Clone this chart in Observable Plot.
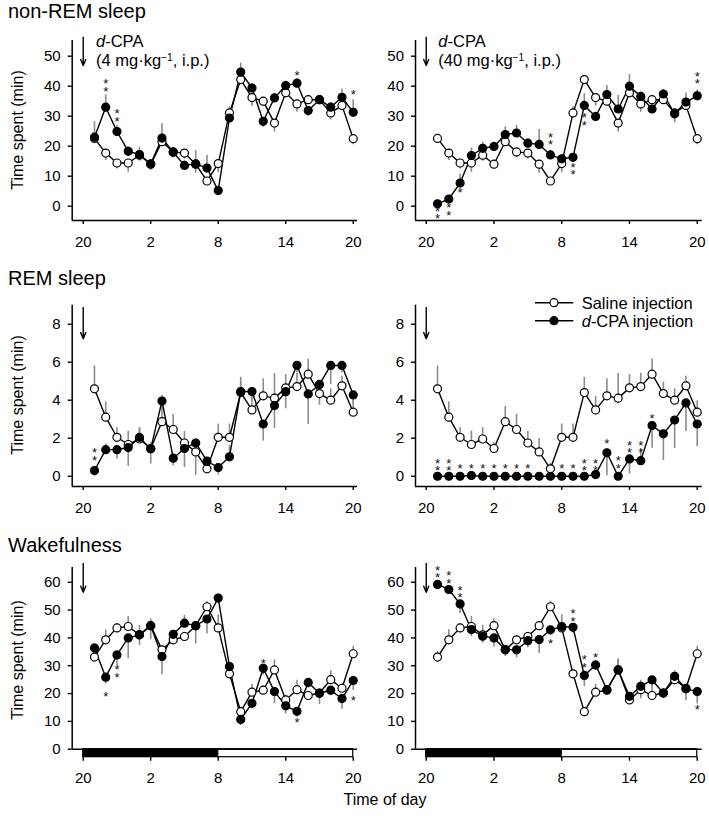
<!DOCTYPE html>
<html><head><meta charset="utf-8">
<script src="https://cdn.jsdelivr.net/npm/d3@7"></script>
<script src="https://cdn.jsdelivr.net/npm/@observablehq/plot@0.6"></script>
<style>
body{margin:0;background:#fff;}
#root{position:relative;width:709px;height:816px;overflow:hidden;font-family:"Liberation Sans",Arial,sans-serif;color:#000;background:#fff;}
.abs{position:absolute;white-space:nowrap;line-height:1;}
sup{font-size:0.62em;vertical-align:0.5em;line-height:0;}
</style></head><body><div id="root"></div>
<script>
// ---------- data ----------
const hours = [21,22,23,24,25,26,27,28,29,30,31,32,33,34,35,36,37,38,39,40,41,42,43,44];
const xTicks = [20,26,32,38,44];
const xTickLabels = ["20","2","8","14","20"];
const injectionHour = 20;

const salineNREM    = [22.6,17.7,14.4,14.4,17.0,14.0,21.5,18.1,17.7,14.0,8.4,14.2,31.1,42.2,36.2,35.0,27.7,37.8,34.1,35.5,35.5,31.1,33.6,22.5];
const salineNREMErr = [-1.5,-2.5,-2,-3.1,-2,-1.5,-1.5,-2,-2,-3,-1.5,-3,2,-1.5,-2.9,-1.5,-3,-1.5,-2.8,-1.5,-1.5,-2.3,-1.5,-2];
const dcpa4NREM     = [23.0,33.0,24.9,18.3,17.2,14.1,22.7,18.0,13.6,14.1,12.7,5.2,29.4,44.7,39.4,28.3,36.1,40.2,41.0,31.9,35.5,33.0,36.3,31.3];
const dcpa4NREMErr  = [5.2,4.1,2,1.5,2.5,-2.2,4.8,1.5,1.5,4.4,4.2,1.5,1.5,3,1.5,-2,1.5,1.5,1.5,-2,1.5,1.5,2.8,4.2];
const dcpa40NREM    = [0.8,2.4,7.7,16.9,19.3,19.9,23.9,24.4,21.0,20.6,17.1,15.8,16.3,33.6,29.9,37.2,32.4,40.0,36.6,32.4,37.4,30.8,34.7,36.8];
const dcpa40NREMErr = [1,1,3,2.5,2,1.5,2.5,2.5,1.5,5,1.5,1.5,-1.5,4,1.5,3,4.5,3.9,1.5,1.5,1.5,-3,3,2];

const salineREM     = [4.60,3.11,2.05,1.67,1.96,1.46,2.87,2.46,1.75,1.28,0.39,2.05,2.05,4.40,3.49,4.23,4.11,4.65,4.72,5.37,4.35,4.00,4.76,3.37];
const salineREMErr  = [1.2,0.8,0.5,0.7,0.6,0.3,0.8,0.8,0.6,0.7,0.3,0.7,0.7,0.8,0.7,0.9,1.3,0.7,0.7,0.8,0.6,0.6,0.5,0.6];
const dcpa4REM      = [0.30,1.40,1.40,1.51,2.04,1.44,3.96,0.95,1.46,1.75,0.79,0.46,1.02,4.46,4.46,2.75,3.72,4.45,5.84,4.33,4.83,5.83,5.83,4.28];
const dcpa4REMErr   = [-0.3,0.3,-0.5,-1.0,0.5,-0.8,0.3,-0.4,-1.0,-1.7,-0.5,-0.4,0.6,0.5,-0.4,-0.9,-1.2,-0.9,-0.4,-1.6,-1.1,-1.0,-0.4,-0.5];
const dcpa40REM     = [0,0,0,0.04,0,0,0,0,0,0,0,0,0,0,0.09,1.23,0,0.91,0.82,2.67,2.23,2.96,3.86,2.75];
const dcpa40REMErr  = [0,0,0,0,0,0,0,0,0,0,0,0,0,0,0,-1.2,0,-0.8,0.6,-1.2,-1.4,-1.5,-1.5,-1.2];

const salineWake    = [33.1,39.3,43.6,44.1,41.1,44.4,35.7,39.3,40.5,44.4,51.2,43.6,27.1,13.5,20.5,21.2,28.5,17.7,21.4,19.3,20.2,25.0,21.9,34.3];
const salineWakeErr = [2,3.6,1.5,3.6,3.4,2.4,1.5,1.5,1.5,1.5,1.9,4.7,1.5,1.5,2.8,1.5,3.6,1.5,3.4,1.5,1.5,3.2,1.5,2.7];
const dcpa4Wake     = [36.4,25.9,33.9,40.0,41.1,44.4,33.3,41.3,45.3,44.4,46.8,54.3,29.7,10.7,16.5,29.1,20.7,15.6,13.6,24.0,20.1,21.2,18.2,24.7];
const dcpa4WakeErr  = [-2,-2.5,-4,-7.5,-3.8,-5,-6.5,-2,2.8,-6.6,-5.4,1.5,-2,-2.2,-2,-2.5,-4.4,-3,-2,-2,-4,-2,-3.8,-3.6];
const dcpa40Wake    = [59.2,57.4,52.2,43.0,40.6,40.0,35.8,35.7,39.0,39.4,42.9,44.1,43.8,26.5,30.3,21.4,28.5,19.0,22.6,24.9,20.2,26.2,21.7,20.7];
const dcpa40WakeErr = [1,1,-3.4,-2.5,-2.5,-3.3,-2.5,-2.9,-2.5,-5,-2,-1.5,-2,-4,-2,-1.5,4,-2,-4.5,-5.6,-2,-3,-4.2,-4.4];

// significance marks: [hour, value position, number of asterisks]
const starsNREM4  = [[22,39.8,2],[23,29.9,2],[39,43.9,1],[44,37.5,1]];
const starsNREM40 = [[21,-2.6,2],[22,-1.4,2],[23,5.0,1],[31,22.1,2],[33,12.1,2],[34,28.6,2],[44,42.4,2]];
const starsREM4   = [[21,1.09,2]];
const starsREM40  = [[21,0.54,2],[22,0.54,2],[23,0.45,1],[24,0.45,1],[25,0.45,1],[26,0.45,1],[27,0.45,1],[28,0.45,1],[29,0.45,1],[32,0.45,1],[33,0.45,1],[34,0.54,2],[35,0.54,2],[36,1.76,1],[37,0.68,2],[38,1.48,2],[39,1.48,2],[40,3.1,1]];
const starsWake4  = [[22,19.3,1],[23,27.6,2],[36,31.3,1],[39,10.1,1],[44,17.9,1]];
const starsWake40 = [[21,63.3,2],[22,61.4,2],[23,56.1,2],[31,38.3,1],[33,47.6,2],[34,31.2,2],[35,33.3,1],[44,14.5,1]];

// injection arrow spans (value units) per row
const arrowSpans = [[56.3,46.9],[8.88,7.24],[66.8,56.4]];
const lightPhases = [{from:20,to:32,phase:"dark"},{from:32,to:44,phase:"light"}];

const rowTitles = ["non-REM sleep","REM sleep","Wakefulness"];
const yTicksRows = [[0,10,20,30,40,50],[0,2,4,6,8],[0,10,20,30,40,50,60]];
const yDomains = [[-4.77,55.23],[-0.54,9.0],[-2.87,65.3]];

// ---------- layout ----------
const rowCfg = [
  {top:0,   height:260, mT:40,   mB:40,   tickPad:12, bar:false},
  {top:260, height:270, mT:44.7, mB:44,   tickPad:12, bar:false},
  {top:530, height:286, mT:37,   mB:59.3, tickPad:11, bar:true}
];
const colCfg = [
  {left:0,   width:365, mL:71.7, mR:8,   xDomain:[19.02,44.38]},
  {left:365, width:344, mL:50,   mR:7.3, xDomain:[19.05,44.44]}
];

const panels = [
  {row:0,col:0,s:salineNREM,se:salineNREMErr,d:dcpa4NREM,de:dcpa4NREMErr,stars:starsNREM4},
  {row:0,col:1,s:salineNREM,se:salineNREMErr,d:dcpa40NREM,de:dcpa40NREMErr,stars:starsNREM40},
  {row:1,col:0,s:salineREM,se:salineREMErr,d:dcpa4REM,de:dcpa4REMErr,stars:starsREM4},
  {row:1,col:1,s:salineREM,se:salineREMErr,d:dcpa40REM,de:dcpa40REMErr,stars:starsREM40},
  {row:2,col:0,s:salineWake,se:salineWakeErr,d:dcpa4Wake,de:dcpa4WakeErr,stars:starsWake4},
  {row:2,col:1,s:salineWake,se:salineWakeErr,d:dcpa40Wake,de:dcpa40WakeErr,stars:starsWake40}
];

const root = document.getElementById("root");
const FONT = '"Liberation Sans", Arial, sans-serif';
const errColor = "#8c8c8c";

function makePanel(p) {
  const r = rowCfg[p.row], c = colCfg[p.col];
  const [y0, y1] = yDomains[p.row];
  const [x0, x1] = c.xDomain;
  const base = r.bar ? 0 : y0;
  const data = hours.map((h,i)=>({h, s:p.s[i], se:p.se[i], d:p.d[i], de:p.de[i]}));
  const marks = [];
  if (r.bar) {
    marks.push(Plot.rect(lightPhases.filter(d=>d.phase==="dark"), {x1:"from", x2:"to", y1:()=>y0, y2:()=>0, fill:"black", stroke:"black", strokeWidth:1.2}));
    marks.push(Plot.rect(lightPhases.filter(d=>d.phase==="light"), {x1:"from", x2:"to", y1:()=>y0, y2:()=>0, fill:"white", stroke:"black", strokeWidth:1.2}));
  }
  marks.push(
    Plot.ruleX([x0], {x:d=>d, y1:()=>base, y2:()=>y1, stroke:"black", strokeWidth:1.5}),
    Plot.ruleY([base], {y:d=>d, x1:()=>x0, x2:()=>x1, stroke:"black", strokeWidth:1.5}),
    Plot.ruleX(data, {x:"h", y1:"s", y2:d=>d.s+d.se, stroke:errColor, strokeWidth:1.6}),
    Plot.ruleX(data, {x:"h", y1:"d", y2:d=>d.d+d.de, stroke:errColor, strokeWidth:1.6}),
    Plot.line(data, {x:"h", y:"s", stroke:"black", strokeWidth:1.4}),
    Plot.line(data, {x:"h", y:"d", stroke:"black", strokeWidth:1.4}),
    Plot.dot(data, {x:"h", y:"s", r:4, fill:"white", stroke:"black", strokeWidth:1.2}),
    Plot.dot(data, {x:"h", y:"d", r:4, fill:"black", stroke:"black", strokeWidth:1.2}),
    Plot.text(p.stars, {x:d=>d[0], y:d=>d[1], text:d=>d[2]===2?"*\n*":"*", fontSize:13, lineHeight:0.58, dy:3, fill:"#111"}),
    Plot.arrow([arrowSpans[p.row]], {x1:()=>injectionHour, x2:()=>injectionHour, y1:d=>d[0], y2:d=>d[1], stroke:"black", strokeWidth:1.4, headLength:7, headAngle:45})
  );
  const svg = Plot.plot({
    width: c.width, height: r.height,
    marginLeft: c.mL, marginRight: c.mR, marginTop: r.mT, marginBottom: r.mB,
    x: {domain:[x0,x1], ticks:xTicks, tickFormat:d=>xTickLabels[xTicks.indexOf(d)], tickSize:4, tickPadding:r.tickPad, label:null},
    y: {domain:[y0,y1], ticks:yTicksRows[p.row], tickSize:4, tickPadding:7.5, label:null},
    style: {background:"none", overflow:"visible", fontFamily:FONT, fontSize:"15px", color:"black"},
    marks
  });
  svg.style.position = "absolute";
  svg.style.left = c.left + "px";
  svg.style.top = r.top + "px";
  svg.style.maxWidth = "none";
  d3.select(svg).selectAll('[aria-label^="x-axis"] path, [aria-label^="y-axis"] path, [aria-label^="x-axis"] line, [aria-label^="y-axis"] line').attr("stroke-width", 1.4);
  root.appendChild(svg);
}
panels.forEach(makePanel);

// ---------- text ----------
function addText(html, left, top, size, extra="") {
  const el = document.createElement("div");
  el.className = "abs";
  el.style.cssText += `left:${left}px;top:${top}px;font-size:${size}px;${extra}`;
  el.innerHTML = html;
  root.appendChild(el);
  return el;
}
const titleBaselines = [18.3, 285, 551.7];
rowTitles.forEach((t,i)=> addText(t, 8, titleBaselines[i] - 0.8465*20, 20));

const yLabelCenters = [130, 395, 660];
yLabelCenters.forEach(cy => addText("Time spent (min)", 17.5, cy, 16, "transform:translate(-50%,-50%) rotate(-90deg);"));

addText("Time of day", 385, 805.5 - 0.8465*16, 16, "transform:translateX(-50%);");

const annSize = 16.5;
addText("<i>d</i>-CPA", 96, 47.3 - 0.8465*annSize, annSize);
addText("(4 mg·kg<sup>−1</sup>, i.p.)", 96, 65.5 - 0.8465*annSize, annSize);
addText("<i>d</i>-CPA", 438.3, 46.7 - 0.8465*annSize, annSize);
addText("(40 mg·kg<sup>−1</sup>, i.p.)", 438.3, 65.5 - 0.8465*annSize, annSize);

// legend
const legendSvg = `<svg width="48" height="36" style="position:absolute;left:530px;top:294px;overflow:visible">
<line x1="5" x2="43.3" y1="8.7" y2="8.7" stroke="black" stroke-width="1.4"/>
<circle cx="24" cy="8.7" r="4" fill="white" stroke="black" stroke-width="1.2"/>
<line x1="5" x2="43.3" y1="26.7" y2="26.7" stroke="black" stroke-width="1.4"/>
<circle cx="24" cy="26.7" r="4" fill="black" stroke="black" stroke-width="1.2"/>
</svg>`;
root.insertAdjacentHTML("beforeend", legendSvg);
addText("Saline injection", 581.7, 308.6 - 0.8465*annSize, annSize);
addText("<i>d</i>-CPA injection", 581.7, 326.6 - 0.8465*annSize, annSize);
</script>
</body></html>
